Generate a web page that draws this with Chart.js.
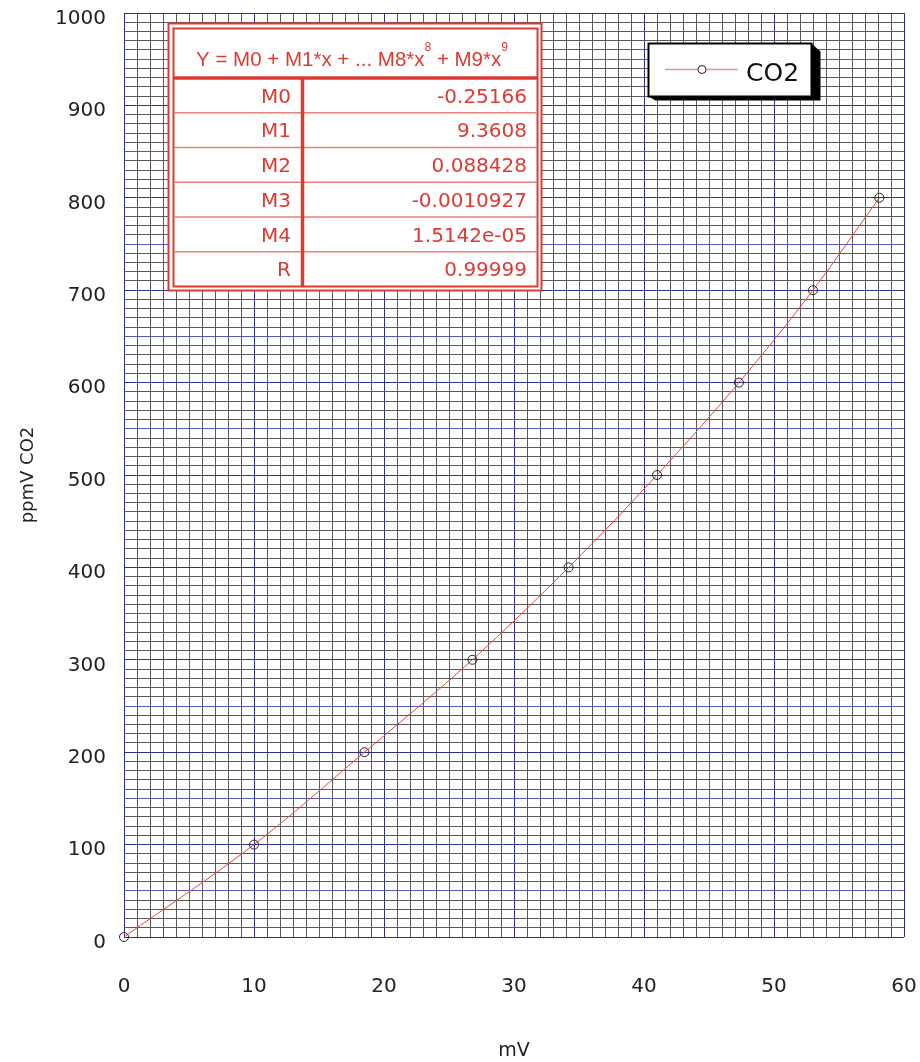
<!DOCTYPE html>
<html>
<head>
<meta charset="utf-8">
<script src="https://cdn.jsdelivr.net/npm/chart.js@4.4.1/dist/chart.umd.min.js"></script>
<style>
  body { margin: 0; background: #fff; }
  #wrap { width: 920px; height: 1062px; }
</style>
</head>
<body>
<div id="wrap"><canvas id="plot" width="920" height="1062"></canvas></div>
<script>
// calibration points: sensor output vs concentration
const mV = [0, 10, 18.5, 26.8, 34.2, 41.0, 47.3, 53.0, 58.1];
const ppmV = [0, 100, 200, 300, 400, 500, 600, 700, 800];

// fit coefficients shown in the box
const coefNames = ["M0", "M1", "M2", "M3", "M4", "R"];
const coefValues = ["-0.25166", "9.3608", "0.088428", "-0.0010927", "1.5142e-05", "0.99999"];

const seriesName = "CO2";
const FONT = "DejaVu Sans";
const RED = "#dc3b33";
const NAVY = "#2c2f90";
const MIDBLUE = "#5659b4";
const MINOR = "#5a5a5a";

function gridColor(major, mid) {
  return function (ctx) {
    const v = Math.round(ctx.tick.value * 1000) / 1000;
    if (v % major === 0) return NAVY;
    if (v % mid === 0) return MIDBLUE;
    return MINOR;
  };
}

// fit table + legend box
const overlay = {
  id: "overlay",
  afterDraw(chart) {
    const c = chart.ctx;
    c.save();

    // table frame
    c.fillStyle = "#fff";
    c.fillRect(168, 23, 374, 268);
    c.strokeStyle = RED;
    c.lineWidth = 2;
    c.strokeRect(168.5, 23.5, 373, 267);
    c.strokeRect(173.5, 28.5, 364, 258);

    // row separators
    c.strokeStyle = "#e8837c";
    c.lineWidth = 1.5;
    const rowTop = 78;
    const rowH = 34.75;
    for (let i = 1; i < coefNames.length; i++) {
      const y = rowTop + i * rowH;
      c.beginPath();
      c.moveTo(174, y);
      c.lineTo(537, y);
      c.stroke();
    }

    c.strokeStyle = RED;
    c.lineWidth = 3.5;
    c.beginPath();
    c.moveTo(174, rowTop);
    c.lineTo(537, rowTop);
    c.moveTo(302.5, rowTop);
    c.lineTo(302.5, 286);
    c.stroke();

    // header formula with superscripts
    c.fillStyle = RED;
    c.textBaseline = "alphabetic";
    c.textAlign = "left";
    const parts = [
      ["Y = M0 + M1*x + ... M8*x", false],
      ["8", true],
      [" + M9*x", false],
      ["9", true]
    ];
    const big = "20.5px 'Liberation Sans'", small = "12px 'Liberation Sans'";
    let total = 0;
    parts.forEach(function (p) {
      c.font = p[1] ? small : big;
      total += c.measureText(p[0]).width;
    });
    let x = 352 - total / 2;
    parts.forEach(function (p) {
      c.font = p[1] ? small : big;
      c.fillText(p[0], x, p[1] ? 51 : 66);
      x += c.measureText(p[0]).width;
    });

    // coefficient rows
    c.font = "20px " + FONT;
    c.textAlign = "right";
    for (let i = 0; i < coefNames.length; i++) {
      const base = rowTop + i * rowH + rowH / 2 + 7.3;
      c.fillText(coefNames[i], 291, base);
      c.fillText(coefValues[i], 527, base);
    }

    // legend box with drop shadow
    const L = 648.5, T = 43.5, R = 811.5, B = 96.5;
    c.fillStyle = "#000";
    c.beginPath();
    c.moveTo(R, T);
    c.lineTo(R + 9, T + 8);
    c.lineTo(R + 9, B + 4);
    c.lineTo(L + 7, B + 4);
    c.lineTo(L, B);
    c.closePath();
    c.fill();
    c.fillStyle = "#fff";
    c.fillRect(L, T, R - L, B - T);
    c.strokeStyle = "#000";
    c.lineWidth = 2;
    c.strokeRect(L, T, R - L, B - T);

    c.strokeStyle = "#e8958f";
    c.lineWidth = 1.5;
    c.beginPath();
    c.moveTo(665, 69.5);
    c.lineTo(738, 69.5);
    c.stroke();
    c.fillStyle = "#fff";
    c.strokeStyle = "#222";
    c.lineWidth = 1;
    c.beginPath();
    c.arc(702, 69.5, 4, 0, Math.PI * 2);
    c.fill();
    c.stroke();

    c.fillStyle = "#111";
    c.font = "25px " + FONT;
    c.textAlign = "left";
    c.fillText(seriesName, 746, 80.5);

    c.restore();
  }
};

new Chart(document.getElementById("plot"), {
  type: "scatter",
  data: {
    datasets: [{
      label: seriesName,
      data: mV.map(function (v, i) { return { x: v, y: ppmV[i] }; }),
      showLine: true,
      cubicInterpolationMode: "monotone",
      borderColor: "#e8453c",
      borderWidth: 1,
      pointRadius: 4.5,
      pointBorderColor: "#222",
      pointBorderWidth: 1,
      pointBackgroundColor: "rgba(0,0,0,0)",
      clip: false
    }]
  },
  options: {
    responsive: false,
    animation: false,
    events: [],
    layout: { padding: { top: 13, right: 16, left: 0, bottom: 0 } },
    plugins: {
      legend: { display: false },
      tooltip: { enabled: false }
    },
    scales: {
      x: {
        type: "linear",
        min: 0,
        max: 60,
        afterFit: function (s) {
          s.height = 125;
          s.paddingLeft = 0;
          s.paddingRight = 0;
        },
        border: { display: false },
        grid: { color: gridColor(10, 5), lineWidth: 1, drawTicks: false },
        ticks: {
          stepSize: 1,
          autoSkip: false,
          maxRotation: 0,
          padding: 38,
          color: "#222",
          font: { family: FONT, size: 20 },
          callback: function (v) { return v % 10 === 0 ? v : ""; }
        },
        title: {
          display: true,
          text: "mV",
          color: "#222",
          font: { family: FONT, size: 19 },
          padding: { top: 0, bottom: 0 }
        }
      },
      y: {
        type: "linear",
        min: 0,
        max: 1000,
        afterFit: function (s) {
          s.width = 124;
          s.paddingTop = 0;
          s.paddingBottom = 0;
        },
        border: { display: false },
        grid: { color: gridColor(100, 50), lineWidth: 1, drawTicks: false },
        ticks: {
          stepSize: 10,
          autoSkip: false,
          padding: 18,
          labelOffset: 5.5,
          color: "#222",
          font: { family: FONT, size: 20 },
          callback: function (v) { return v % 100 === 0 ? v : ""; }
        },
        title: {
          display: true,
          text: "ppmV CO2",
          color: "#222",
          font: { family: FONT, size: 18 },
          padding: { top: 18, bottom: 0 }
        }
      }
    }
  },
  plugins: [overlay]
});
</script>
</body>
</html>
